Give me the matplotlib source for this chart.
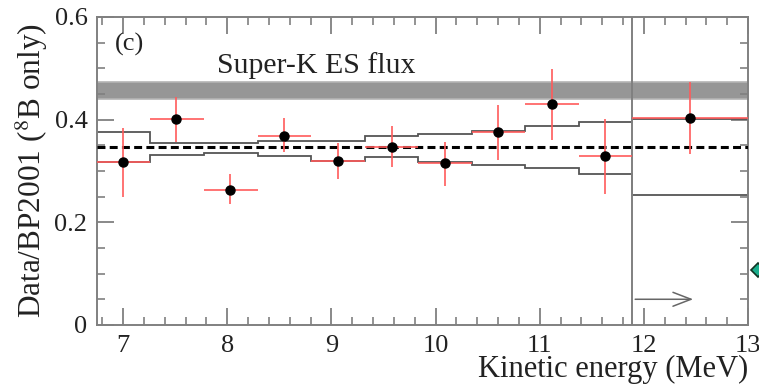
import matplotlib
matplotlib.use("Agg")
import matplotlib.pyplot as plt
import numpy as np
from matplotlib.ticker import MultipleLocator

# bin edges (MeV) and measured points
edges = [6.75, 7.26, 7.78, 8.29, 8.80, 9.32, 9.83, 10.35, 10.86, 11.38, 11.89, 13.0]
energy = [7.00, 7.51, 8.03, 8.54, 9.06, 9.58, 10.09, 10.60, 11.12, 11.63, 12.44]
ratio = [0.317, 0.402, 0.263, 0.369, 0.319, 0.346, 0.315, 0.375, 0.431, 0.329, 0.404]
ratio_hi = [0.383, 0.445, 0.294, 0.404, 0.354, 0.388, 0.357, 0.429, 0.499, 0.402, 0.473]
ratio_lo = [0.250, 0.356, 0.236, 0.336, 0.284, 0.307, 0.270, 0.321, 0.361, 0.255, 0.333]

# expected-spectrum band (upper / lower edges per bin)
band_hi = [0.375, 0.355, 0.355, 0.359, 0.359, 0.368, 0.372, 0.377, 0.388, 0.395, 0.401]
band_lo = [0.318, 0.331, 0.335, 0.330, 0.320, 0.327, 0.317, 0.311, 0.306, 0.294, 0.253]

mean_ratio = 0.346
sk_lo, sk_hi = 0.440, 0.473
e_split = 11.89
arrow_y, arrow_end = 0.05, 12.5
marker_x, marker_y = 13.1, 0.108

plt.rcParams["font.family"] = ["Liberation Serif", "DejaVu Serif"]
plt.rcParams["mathtext.fontset"] = "stix"

fig = plt.figure(figsize=(7.59, 3.85), dpi=100)
ax = fig.add_axes([0.128, 0.156, 0.8575, 0.80])

frame = "#808080"
txt = "#222222"
lw = 1.3

# Super-K band
ax.axhspan(sk_lo, sk_hi, facecolor="#969696", edgecolor="#b4b4b4", lw=1.2, zorder=1)
ax.text(7.9, 0.506, "Super-K ES flux", fontsize=21.5, va="center", ha="left", color=txt)
ax.text(6.92, 0.547, "(c)", fontsize=19, va="center", ha="left", color=txt)

# expected band edges
ax.stairs(band_hi, edges, baseline=None, color="#555555", lw=lw, zorder=2)
ax.stairs(band_lo, edges, baseline=None, color="#555555", lw=lw, zorder=2)

# mean ratio
ax.axhline(mean_ratio, color="k", lw=2.2, ls=(0, (2.6, 1.4)), zorder=3)

# data points
e = np.array(energy)
r = np.array(ratio)
xl = e - np.array(edges[:-1])
xh = np.array(edges[1:]) - e
yl = r - np.array(ratio_lo)
yh = np.array(ratio_hi) - r
ax.errorbar(e, r, xerr=[xl, xh], yerr=[yl, yh], fmt="none", ecolor="#ff5a5a",
            elinewidth=1.4, alpha=0.85, zorder=4)
ax.plot(e, r, "o", color="k", ms=6.5, zorder=5)

# divider and arrow for last bin
ax.axvline(e_split, color=frame, lw=1.4, zorder=3)
ax.annotate("", xy=(arrow_end, arrow_y), xytext=(e_split, arrow_y),
            arrowprops=dict(arrowstyle="->,head_length=1.3,head_width=0.5",
                            color="#666666", lw=1.1))

# marker outside the frame
ax.plot(marker_x, marker_y, "D", ms=7, mfc="#1aae8c", mec="#113322", mew=1.2,
        clip_on=False, zorder=6)

ax.set_xlim(6.75, 13.0)
ax.set_ylim(0, 0.6)
ax.xaxis.set_major_locator(MultipleLocator(1))
ax.xaxis.set_minor_locator(MultipleLocator(0.2))
ax.yaxis.set_minor_locator(MultipleLocator(0.05))
ax.set_yticks([0, 0.2, 0.4, 0.6])
ax.set_yticklabels(["0", "0.2", "0.4", "0.6"])

ax.tick_params(which="both", direction="in", top=True, right=True, color=frame,
               labelsize=19, labelcolor=txt)
ax.tick_params(which="major", length=12, width=1.3, pad=7)
ax.tick_params(which="minor", length=6, width=1.2)
for s in ax.spines.values():
    s.set_color(frame)
    s.set_linewidth(1.4)

ax.set_xlabel("Kinetic energy (MeV)", fontsize=22, color=txt, loc="right", labelpad=-1)
ax.set_ylabel(r"Data/BP2001 ($^{8}$B only)", fontsize=22.5, color=txt, labelpad=3)

fig.savefig("out.png", dpi=100)
